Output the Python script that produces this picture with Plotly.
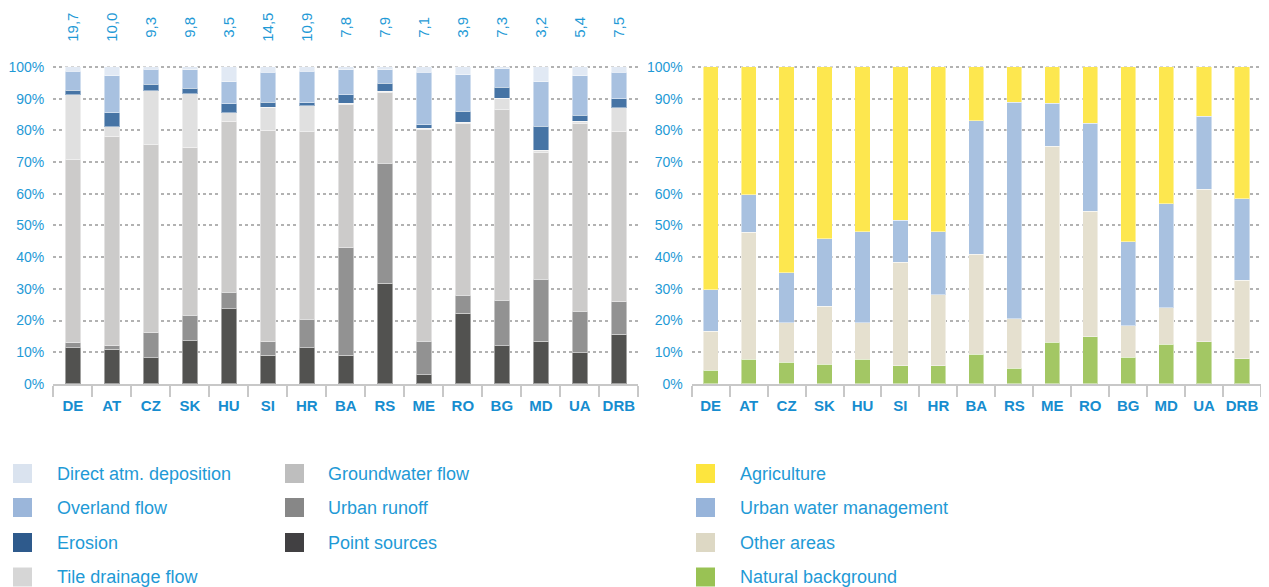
import plotly.graph_objects as go

# the page puts the figure 8px in from the top-left corner
OFF = 8
W, H = 1269 - 2 * OFF, 587 - OFF

countries = ["DE", "AT", "CZ", "SK", "HU", "SI", "HR", "BA", "RS", "ME", "RO", "BG", "MD", "UA", "DRB"]
totals = ["19,7", "10,0", "9,3", "9,8", "3,5", "14,5", "10,9", "7,8", "7,9", "7,1", "3,9", "7,3", "3,2", "5,4", "7,5"]
pct_ticks = list(range(0, 101, 10))
pct_labels = [f"{v}%" for v in pct_ticks]

# left chart: share of each pathway (%), bottom to top
point_sources = [11.4, 10.9, 8.2, 13.6, 23.7, 9.0, 11.4, 9.1, 31.8, 2.9, 22.3, 12.0, 13.5, 9.8, 15.7]
urban_runoff = [1.6, 1.1, 7.9, 8.1, 5.2, 4.3, 9.0, 33.8, 37.9, 10.6, 5.7, 14.4, 19.5, 13.2, 10.2]
groundwater = [57.7, 66.2, 59.3, 52.9, 54.0, 66.8, 59.1, 45.3, 22.1, 66.7, 54.2, 60.1, 40.0, 59.2, 53.9]
tile_drainage = [20.6, 2.9, 17.1, 17.0, 2.6, 7.2, 8.2, 0.4, 0.6, 0.4, 0.4, 3.6, 0.8, 0.7, 7.4]
erosion = [1.3, 4.4, 2.1, 1.7, 2.9, 1.6, 1.0, 2.6, 2.5, 1.1, 3.5, 3.5, 7.5, 1.8, 2.7]
overland = [6.0, 11.7, 4.7, 5.8, 6.9, 9.5, 9.9, 7.9, 4.2, 16.7, 11.5, 5.9, 14.1, 12.5, 8.4]
direct_atm = [1.4, 2.8, 0.7, 0.9, 4.7, 1.6, 1.4, 0.9, 0.9, 1.6, 2.4, 0.5, 4.6, 2.8, 1.7]

# right chart: share of each source (%), bottom to top
natural = [4.4, 7.8, 6.9, 6.3, 7.8, 5.7, 5.7, 9.4, 5.0, 13.2, 14.9, 8.4, 12.5, 13.4, 8.0]
other_areas = [12.2, 40.0, 12.4, 18.2, 11.5, 32.7, 22.4, 31.5, 15.6, 61.8, 39.6, 10.0, 11.5, 48.1, 24.8]
urban_water = [13.1, 11.9, 15.8, 21.3, 28.8, 13.2, 20.0, 42.2, 68.2, 13.5, 27.8, 26.4, 32.9, 23.0, 25.7]
agriculture = [70.3, 40.3, 64.9, 54.2, 51.9, 48.4, 51.9, 16.9, 11.2, 11.5, 17.7, 55.2, 43.1, 15.5, 41.5]

FONT = "Liberation Sans, Arial, sans-serif"
BLUE_TXT = "#1f9ad6"
AX_TXT = "#178dcf"

# (name, values, bar colour, legend colour)
left_series = [
    ("Point sources", point_sources, "#525250", "#414042"),
    ("Urban runoff", urban_runoff, "#929292", "#878787"),
    ("Groundwater flow", groundwater, "#cccbca", "#bebebe"),
    ("Tile drainage flow", tile_drainage, "#e0e0e0", "#d6d6d6"),
    ("Erosion", erosion, "#4674a5", "#2e5a8c"),
    ("Overland flow", overland, "#a8c1e0", "#9bb6da"),
    ("Direct atm. deposition", direct_atm, "#e1e9f4", "#dae3ef"),
]
right_series = [
    ("Natural background", natural, "#a3c764", "#99c254"),
    ("Other areas", other_areas, "#e5e0cf", "#ddd8c4"),
    ("Urban water management", urban_water, "#a8c1e0", "#97b4da"),
    ("Agriculture", agriculture, "#fde74f", "#fde53e"),
]


def px(x):
    return (x - OFF) / W


def py(y):
    return 1 - (y - OFF) / H


fig = go.Figure()
for name, vals, col, _ in left_series:
    fig.add_trace(go.Bar(x=countries, y=vals, name=name, width=0.4,
                         marker=dict(color=col, line=dict(color="rgba(255,255,255,0.45)", width=1)),
                         xaxis="x", yaxis="y", showlegend=False))
for name, vals, col, _ in right_series:
    fig.add_trace(go.Bar(x=countries, y=vals, name=name, width=0.4,
                         marker=dict(color=col, line=dict(color="rgba(255,255,255,0.45)", width=1)),
                         xaxis="x2", yaxis="y2", showlegend=False))

ydom = [py(384), py(65.7)]
xax = dict(type="category", showline=True, linecolor="#c8c8c8", linewidth=2,
           ticks="outside", tickson="boundaries", ticklen=11, tickwidth=2, tickcolor="#c8c8c8",
           tickangle=0, automargin=False, showgrid=False, ticklabelstandoff=7,
           tickfont=dict(family=FONT, size=15, color=AX_TXT, weight="bold"),
           range=[-0.5, 14.5], fixedrange=True)
yax = dict(range=[0, 100.4], tickvals=pct_ticks, ticktext=pct_labels,
           showgrid=True, griddash="dot", gridcolor="#b2b2b2", gridwidth=2, zeroline=False,
           showline=False, ticks="", ticklabelstandoff=8, automargin=False,
           tickfont=dict(family=FONT, size=14, color=BLUE_TXT), domain=ydom)

fig.update_layout(
    width=W, height=H, margin=dict(l=0, r=0, t=0, b=0),
    paper_bgcolor="white", plot_bgcolor="white", barmode="stack",
    xaxis=dict(xax, domain=[px(53.3), px(638.3)], anchor="y"),
    yaxis=dict(yax, anchor="x"),
    xaxis2=dict(xax, domain=[px(691.7), 1.0], anchor="y2"),
    yaxis2=dict(yax, anchor="x2"),
)

# total values above the left bars
for c, t in zip(countries, totals):
    fig.add_annotation(x=c, y=py(27), xref="x", yref="paper", text=t, textangle=-90,
                       xanchor="center", yanchor="middle", showarrow=False,
                       font=dict(family=FONT, size=15, color=BLUE_TXT))


# legends
def legend_item(x_sq, x_txt, y, label, color):
    fig.add_shape(type="rect", xref="paper", yref="paper",
                  x0=px(x_sq), x1=px(x_sq + 19), y0=py(y + 9.5), y1=py(y - 9.5),
                  fillcolor=color, line=dict(width=0))
    fig.add_annotation(x=px(x_txt), y=py(y), xref="paper", yref="paper", text=label,
                       xanchor="left", yanchor="middle", showarrow=False,
                       font=dict(family=FONT, size=18, color=BLUE_TXT))


rows = [473.5, 507.5, 542.5, 577.0]
left_col1 = [left_series[6], left_series[5], left_series[4], left_series[3]]
left_col2 = [left_series[2], left_series[1], left_series[0]]
for (name, _, _, lc), y in zip(left_col1, rows):
    legend_item(13, 55, y, name, lc)
for (name, _, _, lc), y in zip(left_col2, rows):
    legend_item(285, 326, y, name, lc)
for (name, _, _, lc), y in zip(right_series[::-1], rows):
    legend_item(696, 738, y, name, lc)

fig.write_html("out.html")
